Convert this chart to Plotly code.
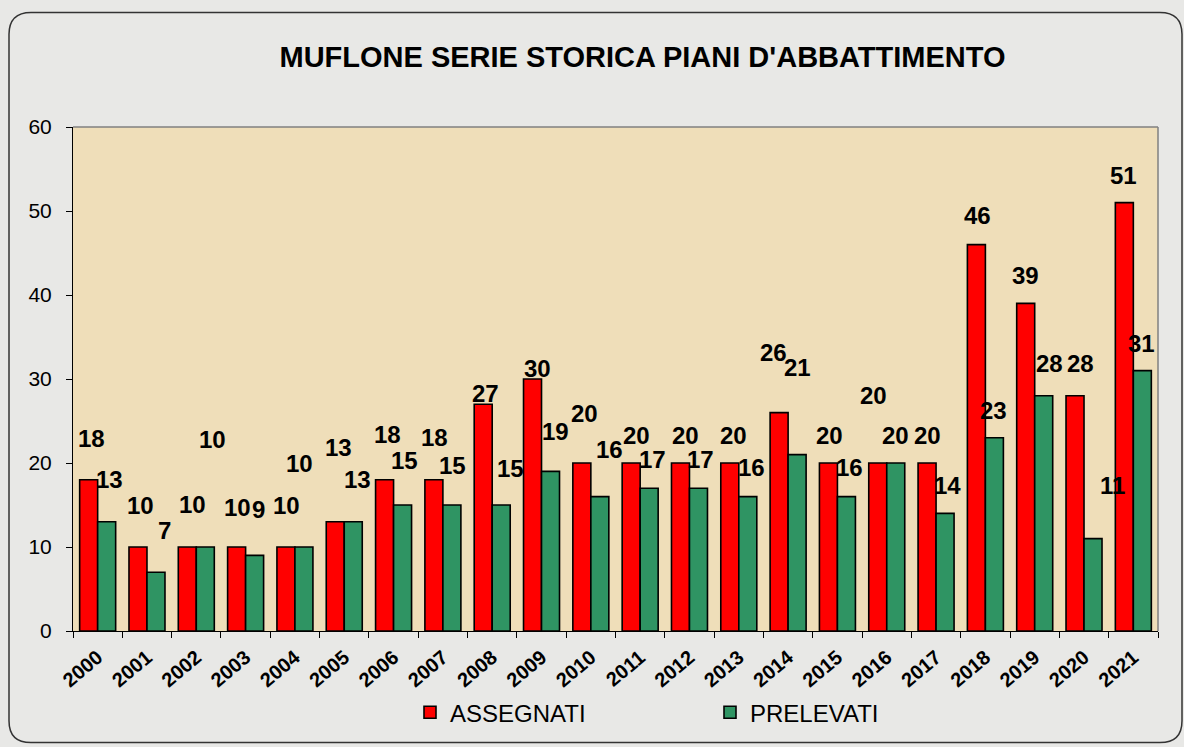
import plotly.graph_objects as go

years = [str(y) for y in range(2000, 2022)]
assegnati = [18, 10, 10, 10, 10, 13, 18, 18, 27, 30, 20, 20, 20, 20, 26, 20, 20, 20, 46, 39, 28, 51]
prelevati = [13, 7, 10, 9, 10, 13, 15, 15, 15, 19, 16, 17, 17, 16, 21, 16, 20, 14, 23, 28, 11, 31]

# label offsets (pixels) relative to category centre / bar top (style only)
a_dx = [-6, -6, -4, -8, -8, -6, -6, -8, -7, -4, -6, -4, -4, -5, -15, -8, -13, -9, -8, -9, -4, -10]
a_dy = [41, 42, 43, 40, 42, 74, 45, 42, 11, 11, 50, 28, 28, 28, 60, 28, 68, 28, 29, 28, 32, 27]
p_dx = [12, 18, 16, 13, 5, 13, 11, 10, 18, 14, 19, 12, 11, 13, 9, 12, 9, 11, 8, 15, 28, 8]
p_dy = [42, 42, 108, 46, 84, 42, 45, 40, 37, 40, 47, 29, 29, 29, 87, 29, 28, 28, 27, 32, 53, 27]

W, H = 1184, 747
L, R, T, B = 73, 26, 127, 114
PW, PH = W - L - R, H - T - B


def px(x):
    return (x - L) / PW


def py(y):
    return (H - B - y) / PH


FONT = "Arial, Liberation Sans, sans-serif"

fig = go.Figure()
fig.add_trace(go.Bar(x=years, y=assegnati, name="ASSEGNATI",
                     marker=dict(color="#ff0000", line=dict(color="#000000", width=1.6))))
fig.add_trace(go.Bar(x=years, y=prelevati, name="PRELEVATI",
                     marker=dict(color="#2f9463", line=dict(color="#000000", width=1.6))))

ann = []
for i in range(len(years)):
    ann.append(dict(x=i, y=assegnati[i], xref="x", yref="y", text=str(assegnati[i]),
                    showarrow=False, xshift=a_dx[i], yshift=a_dy[i],
                    font=dict(family=FONT, size=24, color="#000000", weight="bold")))
    ann.append(dict(x=i, y=prelevati[i], xref="x", yref="y", text=str(prelevati[i]),
                    showarrow=False, xshift=p_dx[i], yshift=p_dy[i],
                    font=dict(family=FONT, size=24, color="#000000", weight="bold")))

# rounded outer frame
x0, x1, y0, y1, r = px(9), px(1182), py(745), py(12), 22
rx, ry = r / PW, r / PH
path = (f"M {x0+rx},{y1} L {x1-rx},{y1} Q {x1},{y1} {x1},{y1-ry} "
        f"L {x1},{y0+ry} Q {x1},{y0} {x1-rx},{y0} L {x0+rx},{y0} "
        f"Q {x0},{y0} {x0},{y0+ry} L {x0},{y1-ry} Q {x0},{y1} {x0+rx},{y1} Z")

fig.update_layout(
    width=W, height=H,
    margin=dict(l=L, r=R, t=T, b=B),
    paper_bgcolor="#e8e8e6",
    plot_bgcolor="#efdeb9",
    barmode="group", bargap=0.27, bargroupgap=0,
    title=dict(text="<b>MUFLONE SERIE STORICA PIANI D'ABBATTIMENTO</b>",
               x=642.5 / W, xanchor="center", y=1 - 57 / H, yanchor="middle",
               font=dict(family=FONT, size=29, color="#000000")),
    font=dict(family=FONT, color="#000000"),
    showlegend=True,
    legend=dict(orientation="h", x=px(410), xanchor="left", y=py(715), yanchor="middle",
                font=dict(family=FONT, size=24, color="#000000"),
                bgcolor="rgba(0,0,0,0)", entrywidth=255, itemwidth=30),
    xaxis=dict(type="category", range=[-0.5, len(years) - 0.5], autorange=False,
               showline=True, linecolor="#000000", linewidth=1,
               ticks="outside", tickson="boundaries", ticklen=6, tickcolor="#000000",
               tickangle=-40, ticklabelstandoff=6,
               tickfont=dict(family=FONT, size=20, color="#000000", weight="bold"),
               showgrid=False, mirror=False),
    yaxis=dict(range=[0, 60], dtick=10, showline=True, linecolor="#000000", linewidth=1,
               ticks="outside", ticklen=6, tickcolor="#000000", ticklabelstandoff=10,
               tickfont=dict(family=FONT, size=21, color="#000000"),
               showgrid=False, zeroline=False),
    annotations=ann,
    shapes=[
        dict(type="path", path=path, xref="paper", yref="paper",
             line=dict(color="#333333", width=1.5), layer="below"),
        dict(type="line", xref="paper", yref="paper", x0=0, x1=1, y0=1, y1=1,
             line=dict(color="#808080", width=1.5)),
        dict(type="line", xref="paper", yref="paper", x0=1, x1=1, y0=0, y1=1,
             line=dict(color="#808080", width=1.5)),
    ],
)

fig.write_html("out.html", config={"displayModeBar": False},
               post_script="document.body.style.margin='0';")
